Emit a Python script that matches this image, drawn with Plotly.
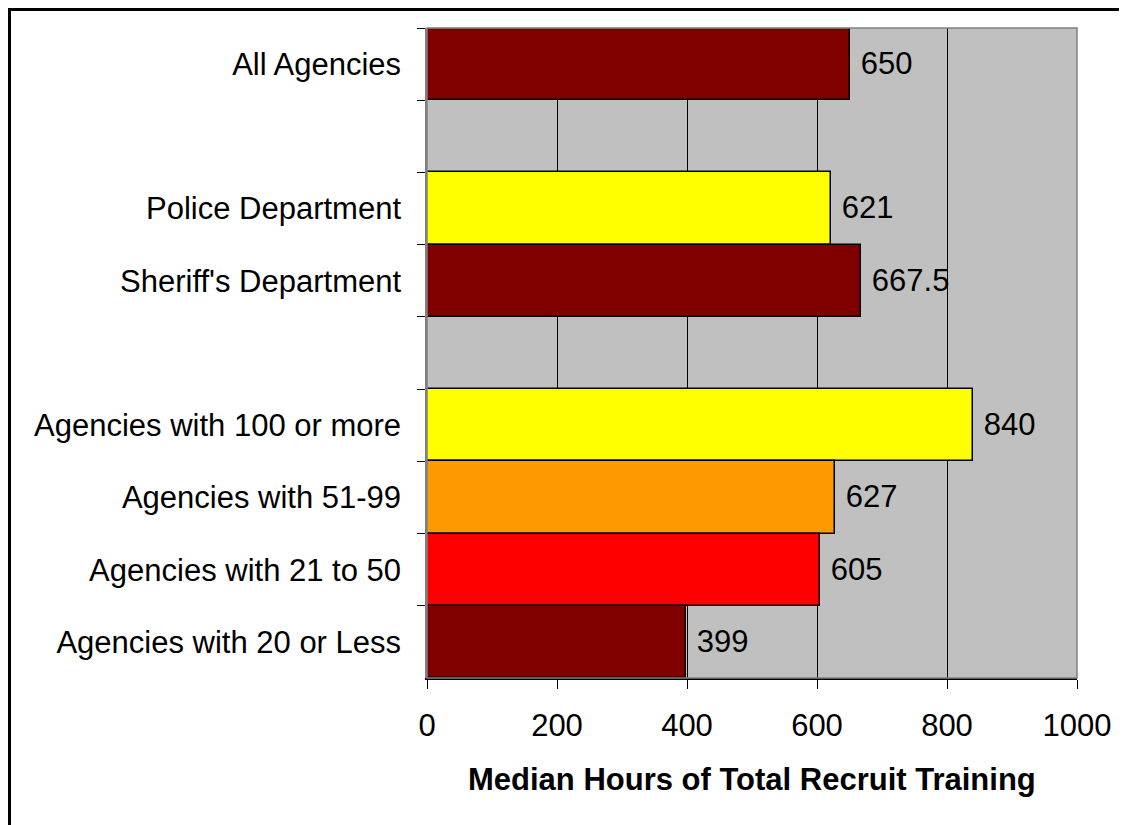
import plotly.graph_objects as go

categories = ["All Agencies", " ", "Police Department", "Sheriff's Department", "  ",
              "Agencies with 100 or more", "Agencies with 51-99", "Agencies with 21 to 50",
              "Agencies with 20 or Less"]
bar_categories = ["All Agencies", "Police Department", "Sheriff's Department",
                  "Agencies with 100 or more", "Agencies with 51-99", "Agencies with 21 to 50",
                  "Agencies with 20 or Less"]
hours = [650, 621, 667.5, 840, 627, 605, 399]
bar_colors = ["#800000", "#FFFF00", "#800000", "#FFFF00", "#FF9900", "#FF0000", "#800000"]
x_ticks = [0, 200, 400, 600, 800, 1000]
x_title = "Median Hours of Total Recruit Training"

FONT = "Liberation Sans, Arial, sans-serif"
FS = 31

W, H = 1119, 817
ML, MR, MT, MB = 419, 50, 20, 147
PW = W - ML - MR
PH = H - MT - MB

fig = go.Figure()
fig.add_trace(go.Bar(
    y=bar_categories, x=hours, orientation="h",
    marker=dict(color=bar_colors, line=dict(color="#000000", width=1.5)),
    text=hours, texttemplate=" %{x}", textposition="outside",
    textfont=dict(family=FONT, size=FS, color="#000000"),
    cliponaxis=False, showlegend=False,
))

fig.update_layout(
    width=W, height=H,
    margin=dict(l=ML, r=MR, t=MT, b=MB, pad=0),
    paper_bgcolor="#FFFFFF", plot_bgcolor="#C0C0C0",
    bargap=0,
    font=dict(family=FONT, size=FS, color="#000000"),
    xaxis=dict(range=[0, 1000], tickvals=x_ticks, showgrid=True, gridcolor="#000000",
               gridwidth=1, zeroline=False, showline=True, linecolor="#000000", linewidth=1.5,
               ticks="outside", ticklen=9, tickcolor="#000000", tickwidth=1,
               tickfont=dict(family=FONT, size=FS, color="#000000"),
               ticklabelstandoff=10),
    yaxis=dict(type="category", categoryarray=categories, categoryorder="array",
               autorange="reversed", tickson="boundaries", ticks="outside", ticklen=8,
               tickcolor="#000000", tickwidth=1, showgrid=False, zeroline=False,
               showline=True, linecolor="#808080", linewidth=1.5,
               tickfont=dict(family=FONT, size=FS, color="#000000"),
               ticklabelstandoff=18),
)

# plot area border (gray)
fig.add_shape(type="rect", xref="paper", yref="paper", x0=0, x1=1, y0=0, y1=1,
              line=dict(color="#808080", width=1.5), layer="above")
# outer chart border
fig.add_shape(type="rect", xref="paper", yref="paper",
              x0=(1.5 - ML) / PW, x1=1.3, y0=-0.4, y1=1 + (MT - 1.5) / PH,
              line=dict(color="#000000", width=3), layer="above")

fig.add_annotation(text="<b>" + x_title + "</b>", xref="paper", yref="paper",
                   x=0.5, y=-101 / PH, xanchor="center", yanchor="middle",
                   showarrow=False, font=dict(family=FONT, size=FS, color="#000000"))

fig.write_html("out.html")
